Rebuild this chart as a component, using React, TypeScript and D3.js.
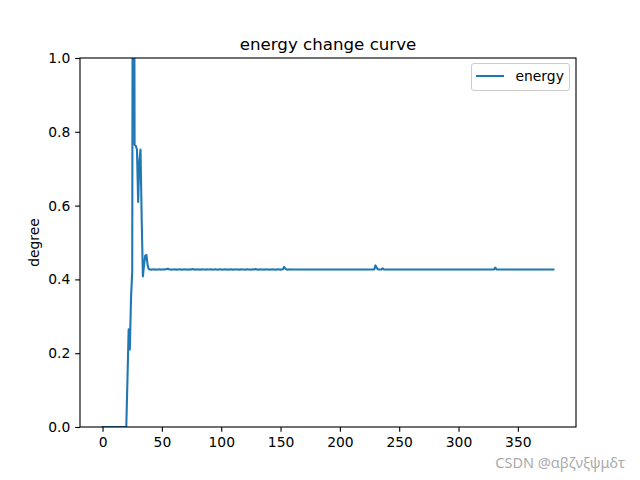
// App.tsx
import React, { useRef, useEffect } from 'react';
import * as d3 from 'd3';

// energy value per step (index = step)
const energy = [
  0, 0, 0, 0, 0, 0, 0, 0, 0, 0, 0, 0, 0, 0, 0, 0, 0, 0, 0, 0,
  0, 0.13, 0.265, 0.21, 0.35, 0.42, 2.6, 0.765, 0.762, 0.752, 0.61, 0.72, 0.752, 0.56, 0.408, 0.44, 0.465, 0.466, 0.438, 0.428,
  0.427, 0.4265, 0.427, 0.4275, 0.427, 0.4265, 0.427, 0.427, 0.4275, 0.4265, 0.427, 0.427, 0.4275, 0.427, 0.428, 0.429, 0.4275, 0.427, 0.4265, 0.427,
  0.427, 0.4275, 0.4265, 0.427, 0.427, 0.4275, 0.427, 0.4265, 0.427, 0.4275, 0.427, 0.427, 0.4265, 0.427, 0.4275, 0.427, 0.428, 0.427, 0.4265, 0.427,
  0.4275, 0.427, 0.4265, 0.427, 0.4275, 0.427, 0.427, 0.4265, 0.4275, 0.427, 0.427, 0.4275, 0.4265, 0.427, 0.427, 0.4275, 0.427, 0.4265, 0.427, 0.4275,
  0.427, 0.4265, 0.427, 0.4275, 0.427, 0.427, 0.4265, 0.427, 0.4275, 0.427, 0.4265, 0.427, 0.427, 0.4275, 0.427, 0.4265, 0.427, 0.4275, 0.427, 0.427,
  0.4265, 0.427, 0.4275, 0.427, 0.427, 0.4265, 0.427, 0.4275, 0.427, 0.428, 0.427, 0.4265, 0.427, 0.4275, 0.427, 0.427, 0.4265, 0.427, 0.4275, 0.427,
  0.427, 0.4265, 0.427, 0.4275, 0.427, 0.427, 0.4265, 0.427, 0.4275, 0.427, 0.4265, 0.427, 0.4275, 0.434, 0.429, 0.427, 0.4265, 0.427, 0.4275, 0.427,
  0.427, 0.427, 0.427, 0.427, 0.427, 0.427, 0.427, 0.427, 0.427, 0.427, 0.427, 0.427, 0.427, 0.427, 0.427, 0.427, 0.427, 0.427, 0.427, 0.427,
  0.427, 0.427, 0.427, 0.427, 0.427, 0.427, 0.427, 0.427, 0.427, 0.427, 0.427, 0.427, 0.427, 0.427, 0.427, 0.427, 0.427, 0.427, 0.427, 0.427,
  0.427, 0.427, 0.427, 0.427, 0.427, 0.427, 0.427, 0.427, 0.427, 0.427, 0.427, 0.427, 0.427, 0.427, 0.427, 0.427, 0.427, 0.427, 0.427, 0.427,
  0.427, 0.427, 0.427, 0.427, 0.427, 0.427, 0.427, 0.427, 0.427, 0.427, 0.438, 0.432, 0.427, 0.427, 0.427, 0.427, 0.430, 0.427, 0.427, 0.427,
  0.427, 0.427, 0.427, 0.427, 0.427, 0.427, 0.427, 0.427, 0.427, 0.427, 0.427, 0.427, 0.427, 0.427, 0.427, 0.427, 0.427, 0.427, 0.427, 0.427,
  0.427, 0.427, 0.427, 0.427, 0.427, 0.427, 0.427, 0.427, 0.427, 0.427, 0.427, 0.427, 0.427, 0.427, 0.427, 0.427, 0.427, 0.427, 0.427, 0.427,
  0.427, 0.427, 0.427, 0.427, 0.427, 0.427, 0.427, 0.427, 0.427, 0.427, 0.427, 0.427, 0.427, 0.427, 0.427, 0.427, 0.427, 0.427, 0.427, 0.427,
  0.427, 0.427, 0.427, 0.427, 0.427, 0.427, 0.427, 0.427, 0.427, 0.427, 0.427, 0.427, 0.427, 0.427, 0.427, 0.427, 0.427, 0.427, 0.427, 0.427,
  0.427, 0.427, 0.427, 0.427, 0.427, 0.427, 0.427, 0.427, 0.427, 0.427, 0.427, 0.432, 0.427, 0.427, 0.427, 0.427, 0.427, 0.427, 0.427, 0.427,
  0.427, 0.427, 0.427, 0.427, 0.427, 0.427, 0.427, 0.427, 0.427, 0.427, 0.427, 0.427, 0.427, 0.427, 0.427, 0.427, 0.427, 0.427, 0.427, 0.427,
  0.427, 0.427, 0.427, 0.427, 0.427, 0.427, 0.427, 0.427, 0.427, 0.427, 0.427, 0.427, 0.427, 0.427, 0.427, 0.427, 0.427, 0.427, 0.427, 0.427,
  0.427,
];

const xTicks = [0, 50, 100, 150, 200, 250, 300, 350];
const yTicks = [0, 0.2, 0.4, 0.6, 0.8, 1.0];

const title = 'energy change curve';
const yLabel = 'degree';
const seriesName = 'energy';
const watermark = 'CSDN @αβζνξψμδτ';

const App = () => {
  const chartRef = useRef<SVGSVGElement>(null);

  useEffect(() => {
    document.body.style.margin = '0';
    const svg = d3.select(chartRef.current);
    svg.selectAll('*').remove();

    const width = 640;
    const height = 480;
    const margin = { top: 58, right: 64, bottom: 53, left: 80 };
    const font = 'DejaVu Sans, sans-serif';
    const pt = 100 / 72; // matplotlib points -> px at 100 dpi

    const n = energy.length - 1;
    const pad = n * 0.05;
    const xScale = d3
      .scaleLinear()
      .domain([-pad, n + pad])
      .range([margin.left, width - margin.right]);

    const yScale = d3
      .scaleLinear()
      .domain([0, 1])
      .range([height - margin.bottom, margin.top]);

    svg.append('rect').attr('width', width).attr('height', height).attr('fill', '#fff');

    svg
      .append('defs')
      .append('clipPath')
      .attr('id', 'plot-clip')
      .append('rect')
      .attr('x', margin.left)
      .attr('y', margin.top)
      .attr('width', width - margin.left - margin.right)
      .attr('height', height - margin.top - margin.bottom);

    // line
    const line = d3
      .line<number>()
      .x((d, i) => xScale(i))
      .y(d => yScale(d));

    svg
      .append('path')
      .datum(energy)
      .attr('clip-path', 'url(#plot-clip)')
      .attr('d', line)
      .attr('fill', 'none')
      .attr('stroke', '#1f77b4')
      .attr('stroke-width', 1.5 * pt)
      .attr('stroke-linejoin', 'round')
      .attr('stroke-linecap', 'square');

    // axes
    const xAxis = d3
      .axisBottom(xScale)
      .tickValues(xTicks)
      .tickSize(3.5 * pt)
      .tickPadding(3.5 * pt)
      .tickFormat(d3.format('d'));
    const yAxis = d3
      .axisLeft(yScale)
      .tickValues(yTicks)
      .tickSize(3.5 * pt)
      .tickPadding(3.5 * pt)
      .tickFormat(d3.format('.1f'));

    const gx = svg
      .append('g')
      .attr('transform', `translate(0,${height - margin.bottom})`)
      .call(xAxis);
    const gy = svg.append('g').attr('transform', `translate(${margin.left},0)`).call(yAxis);

    [gx, gy].forEach(g => {
      g.select('.domain').remove();
      g.selectAll('line').attr('stroke', '#000').attr('stroke-width', 0.8 * pt);
      g.selectAll('text').attr('font-family', font).attr('font-size', 10 * pt).attr('fill', '#000');
    });

    // frame
    svg
      .append('rect')
      .attr('x', margin.left)
      .attr('y', margin.top)
      .attr('width', width - margin.left - margin.right)
      .attr('height', height - margin.top - margin.bottom)
      .attr('fill', 'none')
      .attr('stroke', '#000')
      .attr('stroke-width', 0.8 * pt);

    // title
    svg
      .append('text')
      .attr('x', (margin.left + width - margin.right) / 2)
      .attr('y', margin.top - 8.5)
      .attr('text-anchor', 'middle')
      .attr('font-family', font)
      .attr('font-size', 12 * pt)
      .text(title);

    // y label
    svg
      .append('text')
      .attr('transform', `translate(39,${(margin.top + height - margin.bottom) / 2}) rotate(-90)`)
      .attr('text-anchor', 'middle')
      .attr('font-family', font)
      .attr('font-size', 10 * pt)
      .text(yLabel);

    // legend
    const lg = svg.append('g').attr('transform', `translate(${width - margin.right - 105},${margin.top + 5})`);
    lg.append('rect')
      .attr('x', 0.5)
      .attr('y', 0.5)
      .attr('width', 98)
      .attr('height', 27)
      .attr('rx', 2.5)
      .attr('fill', '#fff')
      .attr('fill-opacity', 0.8)
      .attr('stroke', '#ccc')
      .attr('stroke-width', 1);
    lg.append('line')
      .attr('x1', 5)
      .attr('x2', 33)
      .attr('y1', 13)
      .attr('y2', 13)
      .attr('stroke', '#1f77b4')
      .attr('stroke-width', 1.5 * pt);
    lg.append('text')
      .attr('x', 44.5)
      .attr('y', 18)
      .attr('font-family', font)
      .attr('font-size', 10 * pt)
      .text(seriesName);

    // watermark
    svg
      .append('text')
      .attr('x', 625)
      .attr('y', 468)
      .attr('text-anchor', 'end')
      .attr('font-family', 'Noto Sans, sans-serif')
      .attr('font-size', 14.5)
      .attr('fill', '#aaa')
      .text(watermark);
  }, []);

  return <svg ref={chartRef} width={640} height={480} style={{ display: 'block' }}></svg>;
};

export default App;
